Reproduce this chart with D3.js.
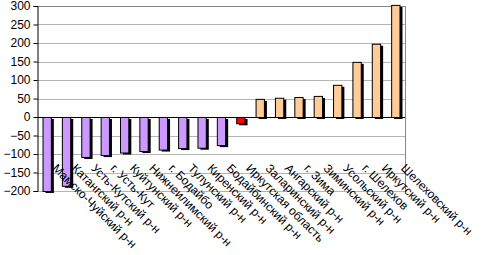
<!DOCTYPE html>
<html>
<head>
<meta charset="utf-8">
<script src="https://cdn.jsdelivr.net/npm/d3@7"></script>
<style>
  body { margin: 0; background: #fff; }
  svg { display: block; font-family: "Liberation Sans", Arial, sans-serif; }
</style>
</head>
<body>
<div id="chart"></div>
<script>
// categories and values
const districts = [
    "Мамско-Чуйский р-н", "Катангский р-н", "Усть-Кутский р-н", "г. Усть-Кут",
    "Куйтунский р-н", "Нижнеилимский р-н", "г. Бодайбо", "Тулунский р-н",
    "Киренский р-н", "Бодайбинский р-н", "Иркутская область", "Заларинский р-н",
    "Ангарский р-н", "г. Зима", "Зиминский р-н", "Усольский р-н",
    "г. Шелехов", "Иркутский р-н", "Шелеховский р-н"
]
const values = [-200, -186, -108, -103, -96, -92, -88, -84, -83, -76, -17, 49, 52, 54, 57, 87, 149, 198, 303]
const yTicks = [-200, -150, -100, -50, 0, 50, 100, 150, 200, 250, 300]
const regionIndex = 10 // "Иркутская область" is drawn in red

const W = 481, H = 255
const margin = { top: 6, right: 76, bottom: 64, left: 37 }
const width = W - margin.left - margin.right,
    height = H - margin.top - margin.bottom

const svg = d3.select("#chart").append("svg")
    .attr("width", W)
    .attr("height", H)
    .append("g")
    .attr("transform", "translate(" + margin.left + "," + margin.top + ")")

const x = d3.scaleBand()
    .domain(d3.range(districts.length))
    .range([0, width])
    .paddingInner(0.57)
    .paddingOuter(0.285)

const y = d3.scaleLinear()
    .domain([-200, 300])
    .range([height, 0])

// gridlines
svg.append("g")
    .selectAll("line")
    .data(yTicks)
    .join("line")
    .attr("x1", 0).attr("x2", width)
    .attr("y1", d => Math.round(y(d)) + 0.5).attr("y2", d => Math.round(y(d)) + 0.5)
    .attr("stroke", "#b4b4b4")

// plot area border (top and right)
svg.append("path")
    .attr("d", "M0," + (Math.round(y(300)) + 0.5) + "H" + (width + 0.5) + "V" + (Math.round(y(-200)) + 0.5))
    .attr("fill", "none")
    .attr("stroke", "#888")

function barColor(i) {
    if (i === regionIndex) return "#ff0000"
    return values[i] < 0 ? "#cc99ff" : "#ffcc99"
}

const yMax = y.domain()[1]
const clipY = v => Math.min(v, yMax + 3)

// shadows
svg.append("g")
    .selectAll("rect")
    .data(values)
    .join("rect")
    .attr("x", (d, i) => x(i) + 3)
    .attr("y", d => y(Math.max(0, clipY(d))) + 2)
    .attr("width", x.bandwidth())
    .attr("height", d => Math.abs(y(clipY(d)) - y(0)))
    .attr("fill", "#000")

// bars
svg.append("g")
    .selectAll("rect")
    .data(values)
    .join("rect")
    .attr("x", (d, i) => x(i) + 0.5)
    .attr("y", d => y(Math.max(0, clipY(d))) + 0.5)
    .attr("width", x.bandwidth())
    .attr("height", d => Math.abs(y(clipY(d)) - y(0)))
    .attr("fill", (d, i) => barColor(i))
    .attr("stroke", "#000")
    .attr("stroke-width", 1)

// category axis line at zero
svg.append("line")
    .attr("x1", 0).attr("x2", width)
    .attr("y1", Math.round(y(0)) + 0.5).attr("y2", Math.round(y(0)) + 0.5)
    .attr("stroke", "#000")

// y axis
const yAxis = svg.append("g")
    .attr("transform", "translate(0.5,0)")
    .call(d3.axisLeft(y).tickValues(yTicks).tickSizeOuter(0).tickSize(4).tickPadding(3))
yAxis.select(".domain").attr("stroke", "#000")
yAxis.selectAll(".tick text")
    .attr("font-size", 12)
    .attr("font-family", "Liberation Sans, Arial, sans-serif")
    .attr("fill", "#000")

// rotated category labels
svg.append("g")
    .selectAll("text")
    .data(districts)
    .join("text")
    .attr("transform", (d, i) => "translate(" + (x(i) + x.bandwidth() / 2 + 5) + "," + (y(0) + 52) + ") rotate(45)")
    .attr("font-size", 12)
    .attr("fill", "#000")
    .text(d => d)
</script>
</body>
</html>
